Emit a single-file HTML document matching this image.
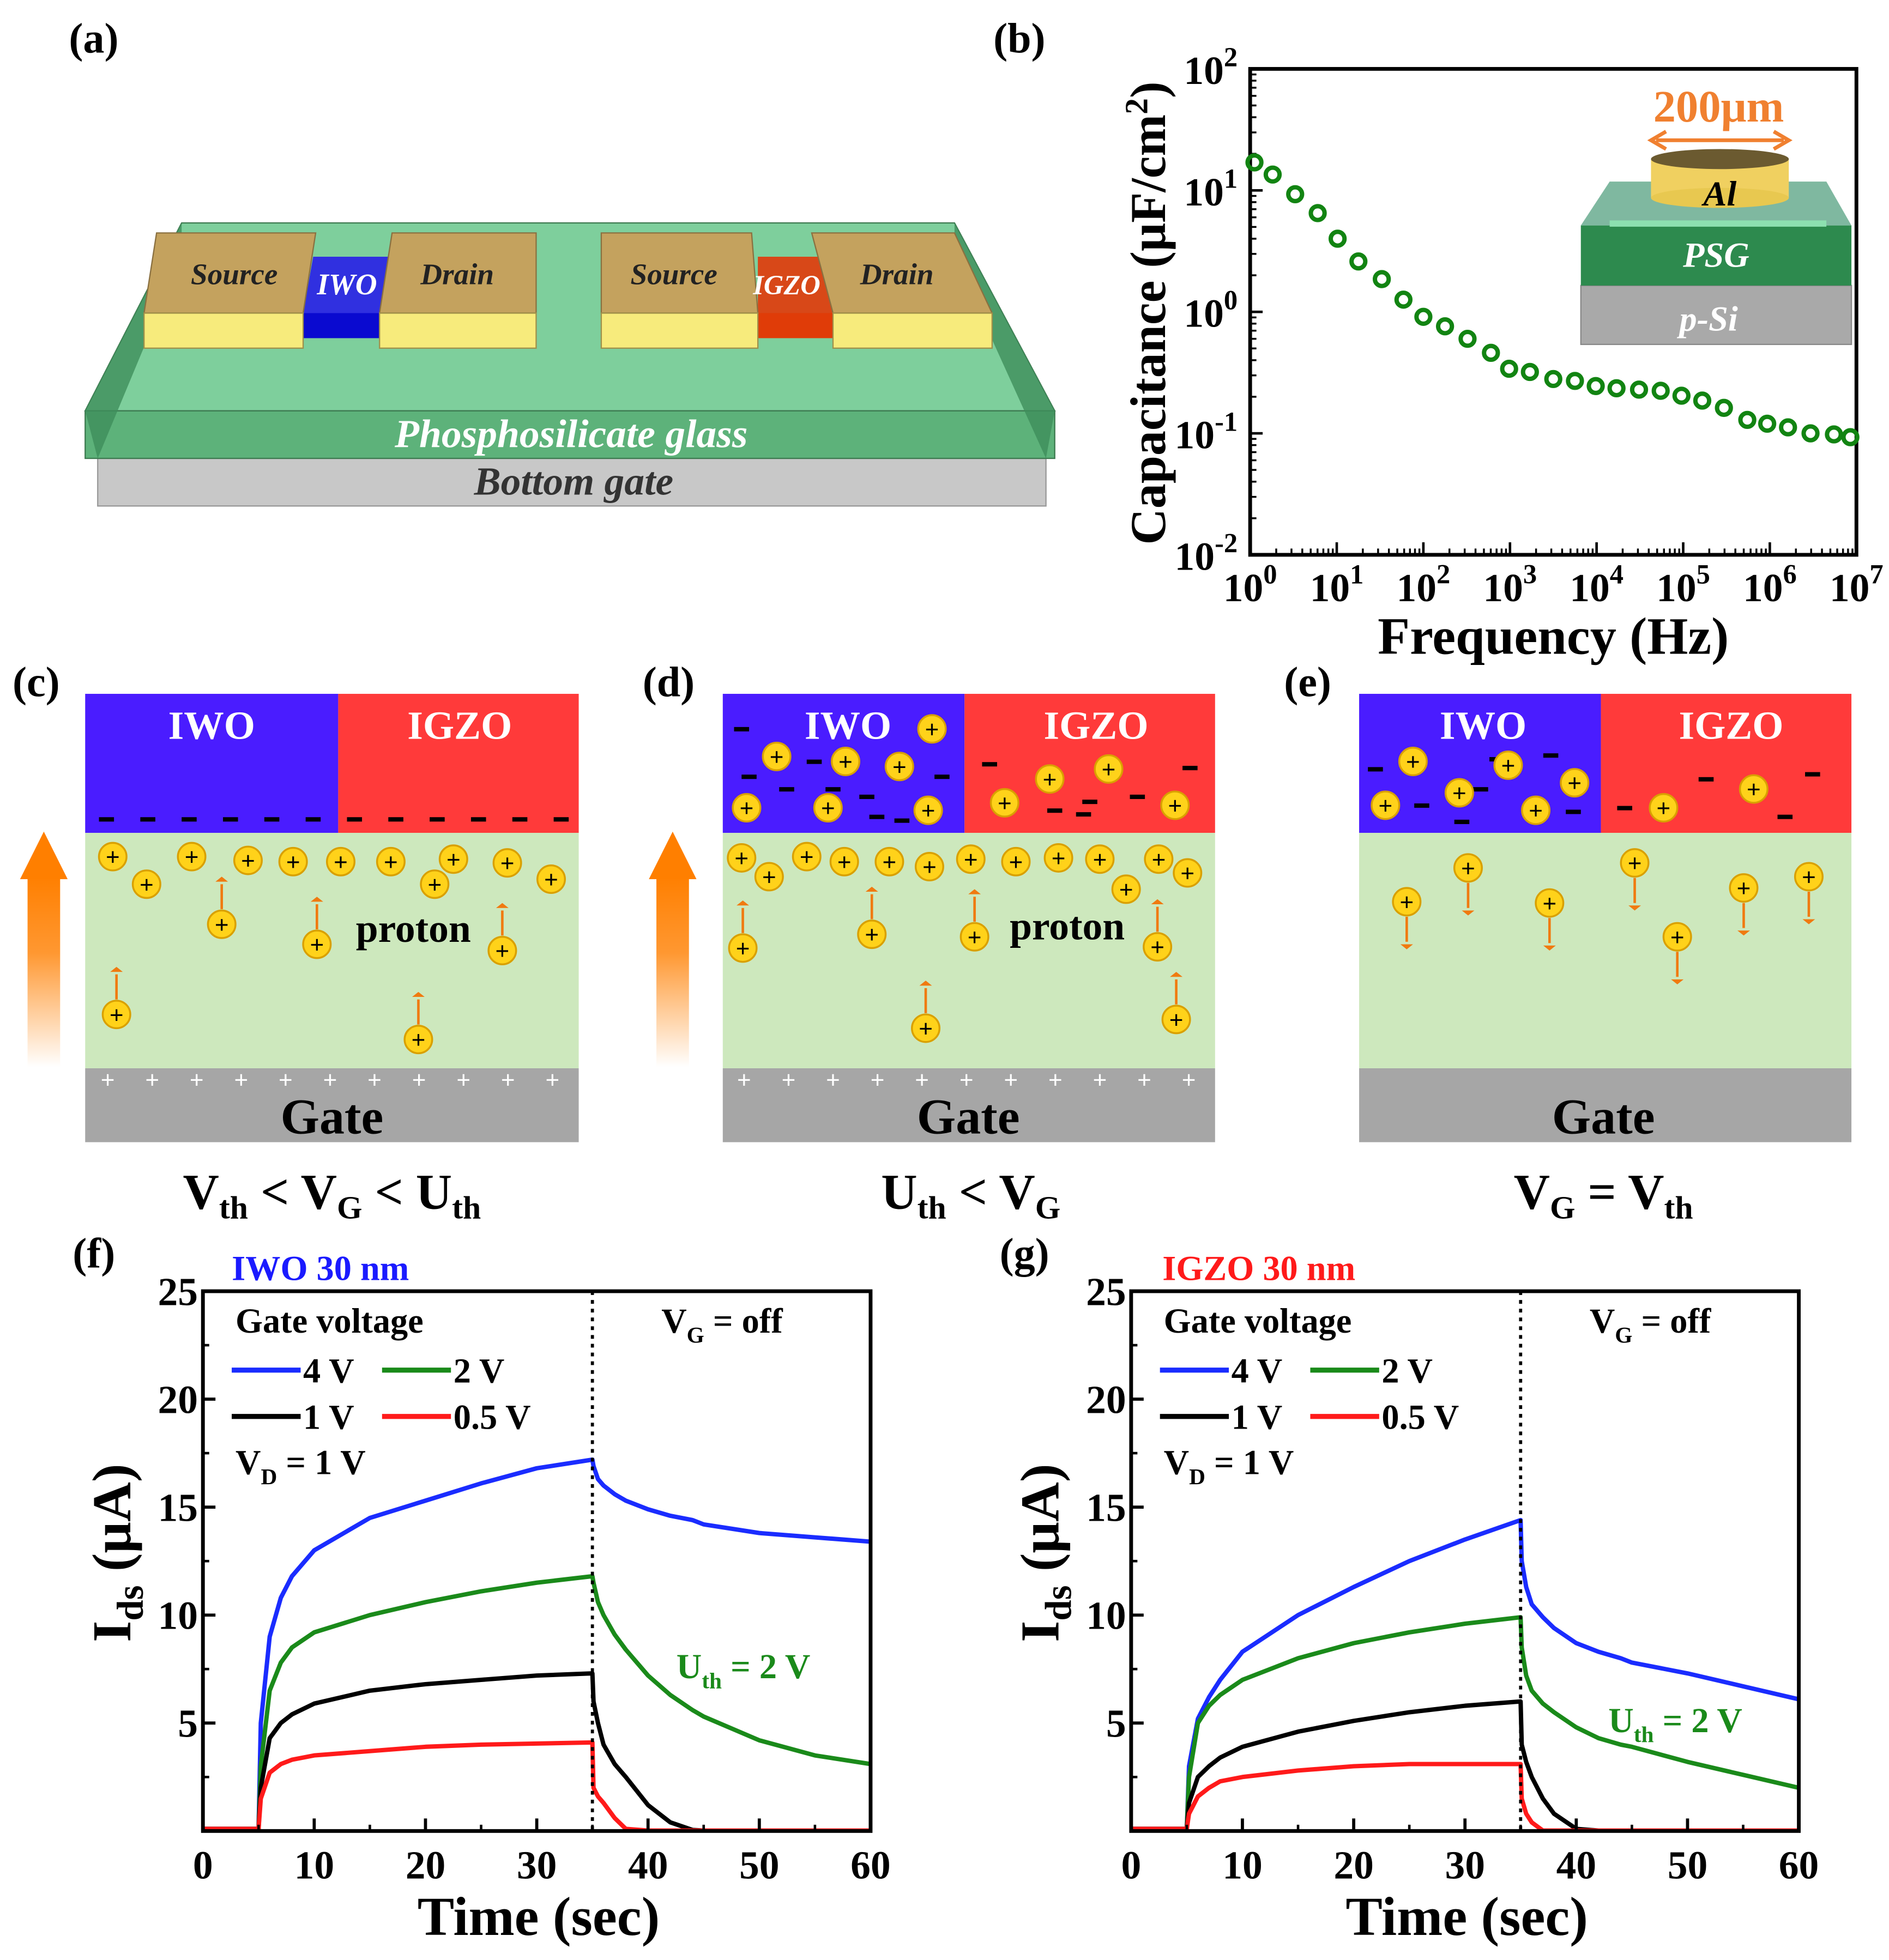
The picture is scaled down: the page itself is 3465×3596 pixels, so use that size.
<!DOCTYPE html>
<html><head><meta charset="utf-8">
<style>
html,body{margin:0;padding:0;background:#fff;}
svg{display:block;font-family:"Liberation Serif",serif;font-weight:bold;}
</style></head>
<body>
<svg id="fig" width="3465" height="3596" viewBox="0 0 1508 1565" xmlns="http://www.w3.org/2000/svg">
<defs>
<linearGradient id="upArrow" x1="0" y1="1" x2="0" y2="0">
<stop offset="0" stop-color="#ff8c1a" stop-opacity="0"/><stop offset="0.6" stop-color="#ff8c1a" stop-opacity="0.9"/><stop offset="1" stop-color="#ff7f00"/>
</linearGradient>
</defs>

<!-- Panel (a) -->
<g>
<text x="55" y="42" font-size="34">(a)</text>
<polygon points="78,366 835,366 835,404 78,404" fill="#c8c8c8" stroke="#999"/>
<polygon points="145,178 762,178 842,328 68,328" fill="#7ecf9c" stroke="#3d7a50"/>
<polygon points="68,328 842,328 842,366 68,366" fill="#5db27a" stroke="#3d7a50"/>
<polygon points="68,328 145,178 145,205 78,366" fill="#3f8d5b" opacity="0.8"/>
<polygon points="842,328 762,178 762,205 835,366" fill="#3f8d5b" opacity="0.8"/>
<!-- IWO channel -->
<polygon points="250,205 313,205 305,250 242,250" fill="#3030e0"/>
<rect x="242" y="250" width="63" height="20" fill="#0a0ad0"/>
<!-- IGZO channel -->
<polygon points="605,205 655,205 665,250 605,250" fill="#d84818"/>
<rect x="605" y="250" width="60" height="20" fill="#e03c08"/>
<!-- electrodes -->
<polygon points="125,186 252,186 242,250 115,250" fill="#c4a25e" stroke="#8a7040"/>
<rect x="115" y="250" width="127" height="28" fill="#f7eb7c" stroke="#a0904a"/>
<polygon points="313,186 428,186 428,250 303,250" fill="#c4a25e" stroke="#8a7040"/>
<rect x="303" y="250" width="125" height="28" fill="#f7eb7c" stroke="#a0904a"/>
<polygon points="480,186 600,186 605,250 480,250" fill="#c4a25e" stroke="#8a7040"/>
<rect x="480" y="250" width="125" height="28" fill="#f7eb7c" stroke="#a0904a"/>
<polygon points="648,186 762,186 792,250 665,250" fill="#c4a25e" stroke="#8a7040"/>
<rect x="665" y="250" width="127" height="28" fill="#f7eb7c" stroke="#a0904a"/>
<g font-style="italic" font-size="24" text-anchor="middle" fill="#222">
<text x="187" y="227">Source</text>
<text x="365" y="227">Drain</text>
<text x="538" y="227">Source</text>
<text x="716" y="227">Drain</text>
<text x="277" y="235" fill="#fff">IWO</text>
<text x="628" y="235" fill="#fff" font-size="22">IGZO</text>
<text x="456" y="357" fill="#fff" font-size="32">Phosphosilicate glass</text>
<text x="458" y="395" fill="#333" font-size="32">Bottom gate</text>
</g>
</g>

<!-- Panel (b) -->
<g id="panelB">
<text x="793" y="42" font-size="34">(b)</text>
<text transform="translate(930,250) rotate(-90)" font-size="40" text-anchor="middle">Capacitance (μF/cm<tspan dy="-14" font-size="26">2</tspan><tspan dy="14">)</tspan></text>
<text x="1240" y="522" font-size="42" text-anchor="middle">Frequency (Hz)</text>
<!-- inset -->
<g>
<rect x="1262" y="228" width="216" height="47" fill="#a9a9a9" stroke="#888"/>
<rect x="1262" y="180" width="216" height="48" fill="#2d8a4e"/>
<polygon points="1285,145 1458,145 1478,180 1262,180" fill="#7fb8a0"/>
<rect x="1285" y="176" width="173" height="5" fill="#8de0b0"/>
<rect x="1318" y="127" width="110" height="31" fill="#f0d060"/>
<ellipse cx="1373" cy="158" rx="55" ry="8" fill="#e8c850"/>
<ellipse cx="1373" cy="127" rx="55" ry="8" fill="#6b5a30"/>
<text x="1373" y="164" font-size="28" font-style="italic" text-anchor="middle">Al</text>
<text x="1370" y="213" font-size="28" font-style="italic" fill="#fff" text-anchor="middle">PSG</text>
<text x="1364" y="264" font-size="28" font-style="italic" fill="#fff" text-anchor="middle">p-Si</text>
<line x1="1322" y1="112" x2="1424" y2="112" stroke="#f08030" stroke-width="3"/>
<polyline points="1330,105 1318,112 1330,119" fill="none" stroke="#f08030" stroke-width="3"/>
<polyline points="1416,105 1428,112 1416,119" fill="none" stroke="#f08030" stroke-width="3"/>
<text x="1372" y="97" font-size="36" fill="#f08030" text-anchor="middle">200μm</text>
</g>
</g>

<!-- Panels c,d,e static parts -->
<g>
<text x="10" y="556" font-size="34">(c)</text>
<rect x="68" y="554" width="202" height="111" fill="#4a1cff"/>
<rect x="270" y="554" width="192" height="111" fill="#ff3a3a"/>
<rect x="68" y="665" width="394" height="188" fill="#cde8bd"/>
<rect x="68" y="853" width="394" height="59" fill="#a6a6a6"/>
<text x="169" y="590" font-size="32" fill="#fff" text-anchor="middle">IWO</text>
<text x="367" y="590" font-size="32" fill="#fff" text-anchor="middle">IGZO</text>
<text x="265" y="905" font-size="40" text-anchor="middle">Gate</text>
<text x="330" y="752" font-size="32" text-anchor="middle">proton</text>
<rect x="22" y="700" width="26" height="152" fill="url(#upArrow)"/>
<polygon points="16,702 35,664 54,702" fill="#ff7f00"/>
<text x="265" y="965" font-size="40" text-anchor="middle">V<tspan font-size="26" dy="8">th</tspan><tspan dy="-8"> &lt; V</tspan><tspan font-size="26" dy="8">G</tspan><tspan dy="-8"> &lt; U</tspan><tspan font-size="26" dy="8">th</tspan></text>
</g>
<g>
<text x="513" y="556" font-size="34">(d)</text>
<rect x="577" y="554" width="193" height="111" fill="#4a1cff"/>
<rect x="770" y="554" width="200" height="111" fill="#ff3a3a"/>
<rect x="577" y="665" width="393" height="188" fill="#cde8bd"/>
<rect x="577" y="853" width="393" height="59" fill="#a6a6a6"/>
<text x="677" y="590" font-size="32" fill="#fff" text-anchor="middle">IWO</text>
<text x="875" y="590" font-size="32" fill="#fff" text-anchor="middle">IGZO</text>
<text x="773" y="905" font-size="40" text-anchor="middle">Gate</text>
<text x="852" y="750" font-size="32" text-anchor="middle">proton</text>
<rect x="524" y="700" width="26" height="152" fill="url(#upArrow)"/>
<polygon points="518,702 537,664 556,702" fill="#ff7f00"/>
<text x="775" y="965" font-size="40" text-anchor="middle">U<tspan font-size="26" dy="8">th</tspan><tspan dy="-8"> &lt; V</tspan><tspan font-size="26" dy="8">G</tspan></text>
</g>
<g>
<text x="1025" y="556" font-size="34">(e)</text>
<rect x="1085" y="554" width="193" height="111" fill="#4a1cff"/>
<rect x="1278" y="554" width="200" height="111" fill="#ff3a3a"/>
<rect x="1085" y="665" width="393" height="188" fill="#cde8bd"/>
<rect x="1085" y="853" width="393" height="59" fill="#a6a6a6"/>
<text x="1184" y="590" font-size="32" fill="#fff" text-anchor="middle">IWO</text>
<text x="1382" y="590" font-size="32" fill="#fff" text-anchor="middle">IGZO</text>
<text x="1280" y="905" font-size="40" text-anchor="middle">Gate</text>
<text x="1280" y="965" font-size="40" text-anchor="middle">V<tspan font-size="26" dy="8">G</tspan><tspan dy="-8"> = V</tspan><tspan font-size="26" dy="8">th</tspan></text>
</g>
<g id="schem"></g>

<!-- Panels f,g -->
<g id="panelF">
<text x="58" y="1012" font-size="34">(f)</text>
<text x="185" y="1022" font-size="28" fill="#1a1aff">IWO 30 nm</text>
<text x="540" y="1340" font-size="28" fill="#1a8a1a">U<tspan font-size="18" dy="8">th</tspan><tspan dy="-8"> = 2 V</tspan></text>
</g>
<g id="panelG">
<text x="798" y="1012" font-size="34">(g)</text>
<text x="928" y="1022" font-size="28" fill="#ff1a1a">IGZO 30 nm</text>
<text x="1284" y="1383" font-size="28" fill="#1a8a1a">U<tspan font-size="18" dy="8">th</tspan><tspan dy="-8"> = 2 V</tspan></text>
</g>
</svg>

<script>
// ---------- Panel (b) data ----------
const capLogFreq = [0.05,0.26,0.52,0.78,1.01,1.25,1.52,1.77,2.0,2.25,2.51,2.78,2.99,3.23,3.5,3.75,3.99,4.23,4.49,4.74,4.98,5.22,5.47,5.74,5.97,6.21,6.47,6.74,6.93];
const capValues = [17,13.5,9.3,6.5,4.0,2.6,1.86,1.26,0.91,0.76,0.60,0.46,0.34,0.32,0.28,0.27,0.245,0.235,0.229,0.224,0.204,0.186,0.162,0.129,0.120,0.112,0.100,0.098,0.093];
const capXTickExp = [0,1,2,3,4,5,6,7];
const capYTickExp = [-2,-1,0,1,2];

// ---------- Panels (f),(g) data ----------
const timeTicks = [0,10,20,30,40,50,60];
const currentTicks = [5,10,15,20,25];
const fT_on = [0,4.9,5.0,5.2,6,7,8,10,15,20,25,30,35];
const fBlueOn = [0.1,0.1,0.1,5,9,10.8,11.8,13,14.5,15.3,16.1,16.8,17.2];
const fGreenOn = [0.1,0.1,0.1,3,6.5,7.8,8.5,9.2,10,10.6,11.1,11.5,11.8];
const fBlackOn = [0.1,0.1,0.1,2,4.3,5,5.4,5.9,6.5,6.8,7.0,7.2,7.3];
const fRedOn = [0.1,0.1,0.1,1.5,2.7,3.1,3.3,3.5,3.7,3.9,4.0,4.05,4.1];
const fT_off = [35.1,35.5,36,37,38,40,42,44,45,50,55,60];
const fBlueOff = [16.9,16.3,16.0,15.6,15.3,14.9,14.6,14.4,14.2,13.8,13.6,13.4];
const fGreenOff = [11.5,10.6,10.0,9.1,8.4,7.2,6.3,5.6,5.3,4.2,3.5,3.1];
const fBlackOff = [6.0,5.0,4.0,3.1,2.5,1.2,0.4,0.05,0.02,0.02,0.02,0.02];
const fRedOff = [2.0,1.6,1.3,0.6,0.1,0.02,0.02,0.02,0.02,0.02,0.02,0.02];
const gT_on = [0,4.9,5.0,5.2,6,7,8,10,15,20,25,30,35];
const gBlueOn = [0.1,0.1,0.1,3,5.2,6.2,7,8.3,10,11.3,12.5,13.5,14.4];
const gGreenOn = [0.1,0.1,0.1,2.5,5,5.8,6.3,7,8,8.7,9.2,9.6,9.9];
const gBlackOn = [0.1,0.1,0.1,1.3,2.5,3,3.4,3.9,4.6,5.1,5.5,5.8,6.0];
const gRedOn = [0.1,0.1,0.1,0.8,1.6,2,2.3,2.5,2.8,3,3.1,3.1,3.1];
const gT_off = [35.1,35.5,36,37,38,40,42,44,45,50,55,60];
const gBlueOff = [12.5,11.3,10.5,9.9,9.4,8.7,8.3,8.0,7.8,7.3,6.7,6.1];
const gGreenOff = [8.5,7.2,6.5,5.9,5.5,4.8,4.3,4.0,3.9,3.2,2.6,2.0];
const gBlackOff = [4.0,3.2,2.5,1.5,0.8,0.1,0.02,0.02,0.02,0.02,0.02,0.02];
const gRedOff = [1.5,0.8,0.4,0.02,0.02,0.02,0.02,0.02,0.02,0.02,0.02,0.02];

const NS = "http://www.w3.org/2000/svg";
function mk(tag, parent, attrs){ const e=document.createElementNS(NS,tag); for(const k in attrs) e.setAttribute(k,attrs[k]); parent.appendChild(e); return e; }

// ---- Panel b ----
(function(){
  const g = document.getElementById('panelB');
  const X0=998,X1=1482,Y0=55,Y1=443;
  const xs = v => X0 + (v-0)/7*(X1-X0);
  const ys = lv => Y1 - (lv+2)/4*(Y1-Y0);
  const frame = mk('rect', g, {x:X0,y:Y0,width:X1-X0,height:Y1-Y0,fill:'none',stroke:'#000','stroke-width':3});
  
  
  capXTickExp.forEach(e=>{
    const x=xs(e);
    mk('line',g,{x1:x,y1:Y1,x2:x,y2:Y1-10,stroke:'#000','stroke-width':2});
    if(e<7) for(let m=2;m<10;m++){ const xm=xs(e+Math.log10(m)); mk('line',g,{x1:xm,y1:Y1,x2:xm,y2:Y1-5,stroke:'#000','stroke-width':1.5}); }
    const t=mk('text',g,{x:x,y:480,'font-size':32,'text-anchor':'middle'});
    
    
    t.innerHTML='10<tspan dy="-14" font-size="22">'+e+'</tspan>';
  });
  capYTickExp.forEach(e=>{
    const y=ys(e);
    mk('line',g,{x1:X0,y1:y,x2:X0+10,y2:y,stroke:'#000','stroke-width':2});
    if(e<2) for(let m=2;m<10;m++){ const ym=ys(e+Math.log10(m)); mk('line',g,{x1:X0,y1:ym,x2:X0+5,y2:ym,stroke:'#000','stroke-width':1.5}); }
    const t=mk('text',g,{x:X0-10,y:y+12,'font-size':32,'text-anchor':'end'});
    
    
    t.innerHTML='10<tspan dy="-14" font-size="22">'+e+'</tspan>';
  });
  capLogFreq.forEach((lf,i)=>{
    const c=mk('circle',g,{cx:xs(lf),cy:ys(Math.log10(capValues[i])),r:5.5,fill:'none',stroke:'#128412','stroke-width':3.5});
    
    
  });
})();

// ---- Schematic protons / charges ----
(function(){
  const g=document.getElementById('schem');
  function proton(x,y){
    const c=mk('circle',g,{cx:x,cy:y,r:11,fill:'#ffd21a',stroke:'#d9a000','stroke-width':1.5});
    
    
    mk('text',g,{x:x,y:y+7,'font-size':20,'text-anchor':'middle',fill:'#000'}).textContent='+';
  }
  function arrow(x,y,dir){ // dir -1 up, +1 down
    const y1=y+dir*12, y2=y+dir*34;
    const a=mk('line',g,{x1:x,y1:dir<0?y-12:y+12,x2:x,y2:dir<0?y-32:y+32,stroke:'#f07a10','stroke-width':2});
    
    
    const tip = dir<0?y-34:y+34;
    mk('polygon',g,{points:(x-5)+','+(tip-dir*-0)+' '+x+','+(tip+dir*4)+' '+(x+5)+','+tip,fill:'#f07a10'});
  }
  function dash(x,y,col){ const d=mk('rect',g,{x:x-6,y:y-1.5,width:12,height:3.5,fill:col||'#000'});   }
  function plus(x,y){ mk('text',g,{x:x,y:y+7,'font-size':20,'text-anchor':'middle',fill:'#fff'}).textContent='+'; }
  // c
  for(let i=0;i<12;i++) dash(85+i*33,654);
  for(let i=0;i<11;i++){ plus(86+i*35.5,862); plus(594+i*35.5,862); }
  [[90,684],[117,706],[153,684],[198,687],[234,688],[272,688],[312,688],[362,686],[347,706],[405,689],[440,702]].forEach(p=>proton(...p));
  [[177,738],[253,754],[401,759],[93,810],[334,830]].forEach(p=>{proton(...p);arrow(p[0],p[1],-1);});
  // d
  [[592,685],[614,700],[644,684],[674,688],[710,688],[742,692],[775,686],[811,688],[845,685],[878,686],[899,710],[925,686],[948,697]].forEach(p=>proton(...p));
  [[593,757],[696,746],[778,748],[924,756],[739,821],[939,814]].forEach(p=>{proton(...p);arrow(p[0],p[1],-1);});
  [[592,582],[598,620],[650,608],[628,630],[665,630],[692,636],[700,652],[720,655],[752,620],[790,610],[950,613],[870,640],[908,636],[842,647],[865,650]].forEach(p=>dash(...p));
  [[744,582],[620,604],[675,608],[718,612],[596,645],[661,645],[741,647],[802,641],[838,622],[885,614],[938,643]].forEach(p=>proton(...p));
  // e
  [[1098,614],[1135,643],[1182,630],[1195,606],[1238,603],[1167,656],[1256,648],[1297,645],[1362,622],[1447,618],[1425,652]].forEach(p=>dash(...p));
  [[1128,608],[1204,611],[1257,625],[1106,643],[1165,633],[1226,647],[1328,645],[1400,630]].forEach(p=>proton(...p));
  [[1123,720],[1172,693],[1237,721],[1305,689],[1339,748],[1392,709],[1444,700]].forEach(p=>{proton(...p);arrow(p[0],p[1],1);});
})();

// ---- Panels f & g ----
function drawIds(gid, X0, tOn, on, tOff, off, prefix){
  const g=document.getElementById(gid);
  const X1=X0+533, Y0=1031, Y1=1462;
  const xs=t=>X0+t/60*(X1-X0), ys=v=>Y1-v/25*(Y1-Y0);
  const colors=['#1a2cff','#1a8a1a','#000','#ff1a1a'];
  const names=['4v','2v','1v','0-5v'];
  on.forEach((arr,i)=>{
    let pts=tOn.map((t,j)=>xs(t)+','+ys(arr[j]));
    pts=pts.concat(tOff.map((t,j)=>xs(t)+','+ys(off[i][j])));
    const p=mk('polyline',g,{points:pts.join(' '),fill:'none',stroke:colors[i],'stroke-width':3.5,'stroke-linejoin':'round'});
    
    
  });
  const dl=mk('line',g,{x1:xs(35),y1:Y0,x2:xs(35),y2:Y1,stroke:'#000','stroke-width':2.5,'stroke-dasharray':'3,4'});
  
  
  const fr=mk('rect',g,{x:X0,y:Y0,width:X1-X0,height:Y1-Y0,fill:'none',stroke:'#000','stroke-width':3});
  
  
  timeTicks.forEach(t=>{
    mk('line',g,{x1:xs(t),y1:Y1,x2:xs(t),y2:Y1-10,stroke:'#000','stroke-width':2.5});
    if(t<60) mk('line',g,{x1:xs(t+5),y1:Y1,x2:xs(t+5),y2:Y1-5,stroke:'#000','stroke-width':2});
    const l=mk('text',g,{x:xs(t),y:1500,'font-size':32,'text-anchor':'middle'});
    
    
    l.textContent=t;
  });
  currentTicks.forEach(v=>{
    mk('line',g,{x1:X0,y1:ys(v),x2:X0+10,y2:ys(v),stroke:'#000','stroke-width':2.5});
    mk('line',g,{x1:X0,y1:ys(v-2.5),x2:X0+5,y2:ys(v-2.5),stroke:'#000','stroke-width':2});
    const l=mk('text',g,{x:X0-4,y:ys(v)+11,'font-size':32,'text-anchor':'end'});
    
    
    l.textContent=v;
  });
  const xt=mk('text',g,{x:X0+268,y:1545,'font-size':44,'text-anchor':'middle'});
  
  
  xt.textContent='Time (sec)';
  const yt=mk('text',g,{transform:'translate('+(X0-58)+',1240) rotate(-90)','font-size':44,'text-anchor':'middle'});
  
  
  yt.innerHTML='I<tspan font-size="30" dy="10">ds</tspan><tspan dy="-10"> (μA)</tspan>';
  const lx=X0+26;
  const gv=mk('text',g,{x:lx,y:1064,'font-size':28});
  
  
  gv.textContent='Gate voltage';
  const leg=[[lx-3,1094,'4 V',0],[lx+117,1094,'2 V',1],[lx-3,1131,'1 V',2],[lx+117,1131,'0.5 V',3]];
  leg.forEach(L=>{
    const ln=mk('line',g,{x1:L[0],y1:L[1],x2:L[0]+55,y2:L[1],stroke:colors[L[3]],'stroke-width':4});
    
    
    mk('text',g,{x:L[0]+57,y:L[1]+10,'font-size':28}).textContent=L[2];
  });
  const vd=mk('text',g,{x:lx,y:1177,'font-size':28});
  
  
  vd.innerHTML='V<tspan font-size="18" dy="8">D</tspan><tspan dy="-8"> = 1 V</tspan>';
  const vg=mk('text',g,{x:X0+366,y:1064,'font-size':28});
  
  
  vg.innerHTML='V<tspan font-size="18" dy="8">G</tspan><tspan dy="-8"> = off</tspan>';
}
drawIds('panelF',162,fT_on,[fBlueOn,fGreenOn,fBlackOn,fRedOn],fT_off,[fBlueOff,fGreenOff,fBlackOff,fRedOff],'f');
drawIds('panelG',903,gT_on,[gBlueOn,gGreenOn,gBlackOn,gRedOn],gT_off,[gBlueOff,gGreenOff,gBlackOff,gRedOff],'g');
</script>
</body></html>
